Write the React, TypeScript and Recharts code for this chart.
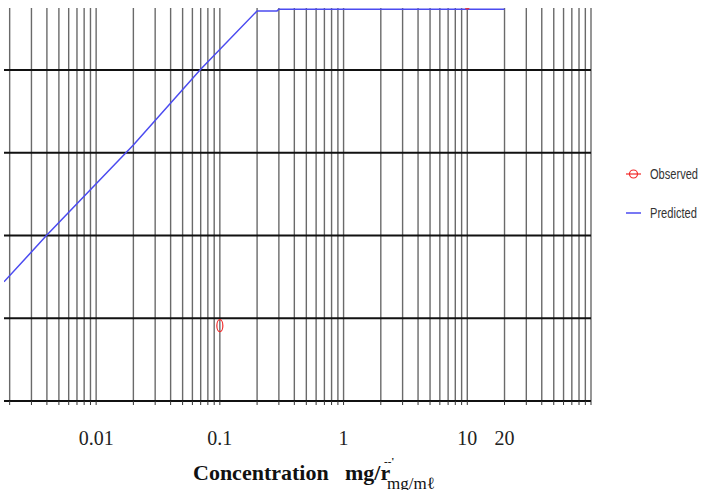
import { ComposedChart, Line, Scatter, XAxis, YAxis, CartesianGrid } from 'recharts';

// Predicted curve (concentration, response)
const predictedConc = [0.0018, 0.004, 0.02, 0.07, 0.2, 0.29, 0.3, 20];
const predictedResp = [28.8, 40.1, 61.9, 80.2, 94.3, 94.3, 94.7, 94.7];

// Observed points
const observedConc = [0.1, 10];
const observedResp = [18.2, 96.2];

// Log grid ticks, only some of them labelled
const gridTicks = [
  0.002, 0.003, 0.004, 0.005, 0.006, 0.007, 0.008, 0.009,
  0.01, 0.02, 0.03, 0.04, 0.05, 0.06, 0.07, 0.08, 0.09,
  0.1, 0.2, 0.3, 0.4, 0.5, 0.6, 0.7, 0.8, 0.9,
  1, 2, 3, 4, 5, 6, 7, 8, 9,
  10, 20, 30, 40, 50, 60, 70, 80, 90, 100,
];
const labelTicks = [0.01, 0.1, 1, 10, 20];
const yTicks = [0, 20, 40, 60, 80];

const predicted = predictedConc.map((x, i) => ({ x, y: predictedResp[i] }));
const observed = observedConc.map((x, i) => ({ x, y: observedResp[i] }));

const RED = '#f22a2a';
const BLUE = '#4b4bf0';
const SERIF = "'Liberation Serif', 'Times New Roman', serif";
const SANS = "'Liberation Sans', Arial, sans-serif";

const formatTick = (v: number) =>
  labelTicks.some((t) => Math.abs(t - v) < t * 1e-6) ? String(v) : '';

const ObservedMark = (props: any) => {
  const { cx, cy } = props;
  if (cx == null || cy == null) return null;
  return <ellipse cx={cx} cy={cy} rx={3} ry={6} fill="none" stroke={RED} strokeWidth={1.2} />;
};

const AxisTitle = (props: any) => {
  const { viewBox } = props;
  const x0 = viewBox.x + 189;
  const y0 = viewBox.y + 79;
  return (
    <g fontFamily={SERIF} fill="#111">
      <text x={x0} y={y0} fontSize={22} fontWeight="bold">Concentration</text>
      <text x={x0 + 152} y={y0} fontSize={22} fontWeight="bold">mg/r</text>
      <text x={x0 + 191} y={y0 - 15} fontSize={11} fontWeight="bold">--'</text>
      <text x={x0 + 194} y={y0 + 9} fontSize={17}>mg/mℓ</text>
    </g>
  );
};

export default function App() {
  return (
    <div style={{ position: 'absolute', left: 0, top: 0, width: 704, height: 490, background: '#fff' }}>
      <ComposedChart width={704} height={490} margin={{ top: 8, right: 113, bottom: 29, left: 4 }}>
        <CartesianGrid horizontal={false} verticalValues={gridTicks} stroke="#6a6a6a" strokeWidth={1.4} />
        <CartesianGrid vertical={false} horizontalValues={yTicks} stroke="#111" strokeWidth={2} />
        <XAxis
          dataKey="x"
          type="number"
          scale="log"
          domain={[0.0018, 100]}
          allowDataOverflow
          ticks={gridTicks}
          interval={0}
          tickFormatter={formatTick}
          height={60}
          tickSize={4}
          tickMargin={26}
          axisLine={{ stroke: '#111', strokeWidth: 2 }}
          tickLine={{ stroke: '#333' }}
          tick={{ fontFamily: SERIF, fontSize: 20, fill: '#222' }}
          label={<AxisTitle />}
        />
        <YAxis type="number" dataKey="y" domain={[0, 95]} ticks={yTicks} allowDataOverflow hide />
        <Scatter data={observed} dataKey="y" shape={<ObservedMark />} isAnimationActive={false} />
        <Line
          data={predicted}
          dataKey="y"
          type="linear"
          stroke={BLUE}
          strokeWidth={1.5}
          dot={false}
          activeDot={false}
          isAnimationActive={false}
        />
      </ComposedChart>
      <svg style={{ position: 'absolute', left: 620, top: 160 }} width={84} height={70}>
        <line x1={6} y1={14} x2={21} y2={14} stroke={RED} strokeWidth={1.2} />
        <circle cx={13.5} cy={14} r={4} fill="none" stroke={RED} strokeWidth={1.2} />
        <text x={30} y={19} fontFamily={SANS} fontSize={14} fill="#333" textLength={48} lengthAdjust="spacingAndGlyphs">
          Observed
        </text>
        <line x1={6} y1={53} x2={21} y2={53} stroke={BLUE} strokeWidth={1.5} />
        <text x={30} y={58} fontFamily={SANS} fontSize={14} fill="#333" textLength={47} lengthAdjust="spacingAndGlyphs">
          Predicted
        </text>
      </svg>
    </div>
  );
}
